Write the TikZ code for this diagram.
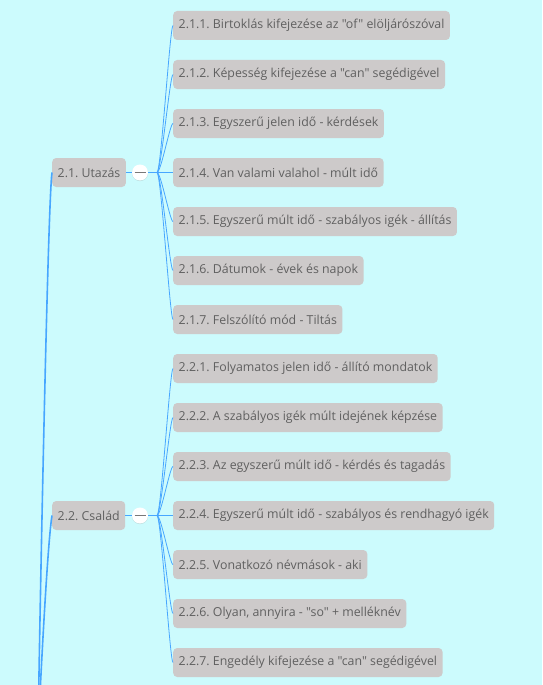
\documentclass[tikz,border=0pt]{standalone}
\usepackage{fontspec}
\newfontfamily\topicfont{Open Sans}
\usetikzlibrary{positioning,shadows}

\definecolor{bgcyan}{HTML}{CCFBFD}
\definecolor{boxgrey}{HTML}{CDCACA}
\definecolor{txtgrey}{HTML}{606060}
\definecolor{linkblue}{HTML}{47A6FF}

\tikzset{
  topic/.style={fill=boxgrey, rounded corners=4pt, text=txtgrey,
    font=\topicfont\fontsize{12.35}{14}\selectfont\frenchspacing, minimum height=29pt,
    inner xsep=5.5pt, inner ysep=0pt, anchor=west},
  mainlink/.style={draw=linkblue, line width=1.6pt},
  sublink/.style={draw=linkblue, line width=0.8pt},
  fold/.style={circle, fill=white, minimum size=16pt, inner sep=0pt,
    drop shadow={shadow xshift=0pt, shadow yshift=-0.6pt, opacity=0.25}},
}

\begin{document}
\begin{tikzpicture}[x=1pt, y=-1pt]
	%%%%% BACKGROUND %%%%%
	\fill[bgcyan] (0, 0) rectangle (542, 685);
	\useasboundingbox (0, 0) rectangle (542, 685);
	\clip (0, 0) rectangle (542, 685);
	
	\coordinate (root) at (38, 735);
	
	%%%%% 2.1 %%%%%
	\node[topic] (utazas) at (52, 172.5) {2.1. Utazás};
	\node[fold] (fold1) at (140, 172.5) {};
	\draw[txtgrey!85, line width=1.8pt] (134.5, 172.5) -- (145.5, 172.5);
	\coordinate (hub1) at (157, 172.5);
	
	\node[topic] (t211) at (173, 25.5) {2.1.1. Birtoklás kifejezése az "of" elöljárószóval};
	\node[topic] (t212) at (173, 74.5) {2.1.2. Képesség kifejezése a "can" segédigével};
	\node[topic] (t213) at (173, 123.5) {2.1.3. Egyszerű jelen idő - kérdések};
	\node[topic] (t214) at (173, 172.5) {2.1.4. Van valami valahol - múlt idő};
	\node[topic] (t215) at (173, 221.5) {2.1.5. Egyszerű múlt idő - szabályos igék - állítás};
	\node[topic] (t216) at (173, 270.5) {2.1.6. Dátumok - évek és napok};
	\node[topic] (t217) at (173, 319.5) {2.1.7. Felszólító mód - Tiltás};
	
	%%%%% 2.2 %%%%%
	\node[topic] (csalad) at (52, 515.5) {2.2. Család};
	\node[fold] (fold2) at (140, 515.5) {};
	\draw[txtgrey!85, line width=1.8pt] (134.5, 515.5) -- (145.5, 515.5);
	\coordinate (hub2) at (157, 515.5);
	
	\node[topic] (t221) at (173, 368.5) {2.2.1. Folyamatos jelen idő - állító mondatok};
	\node[topic] (t222) at (173, 417.5) {2.2.2. A szabályos igék múlt idejének képzése};
	\node[topic] (t223) at (173, 466.5) {2.2.3. Az egyszerű múlt idő - kérdés és tagadás};
	\node[topic] (t224) at (173, 515.5) {2.2.4. Egyszerű múlt idő - szabályos és rendhagyó igék};
	\node[topic] (t225) at (173, 564.5) {2.2.5. Vonatkozó névmások - aki};
	\node[topic] (t226) at (173, 613.5) {2.2.6. Olyan, annyira - "so" + melléknév};
	\node[topic] (t227) at (173, 662.5) {2.2.7. Engedély kifejezése a "can" segédigével};
	
	%%%%% LINKS %%%%%
	\draw[mainlink] (root) .. controls (40, 600) and (48, 200) .. (utazas.west);
	\draw[mainlink] (root) .. controls (42, 650) and (48, 540) .. (csalad.west);
	
	\draw[sublink] (utazas.east) -- (fold1.west);
	\draw[sublink] (fold1.east) -- (hub1);
	\draw[sublink] (csalad.east) -- (fold2.west);
	\draw[sublink] (fold2.east) -- (hub2);
	
	\foreach \t in {t211, t212, t213, t214, t215, t216, t217}
		\draw[sublink] (hub1) .. controls +(4, 0) and +(-3, 0) .. (\t.west);
	\foreach \t in {t221, t222, t223, t224, t225, t226, t227}
		\draw[sublink] (hub2) .. controls +(4, 0) and +(-3, 0) .. (\t.west);
\end{tikzpicture}
\end{document}
